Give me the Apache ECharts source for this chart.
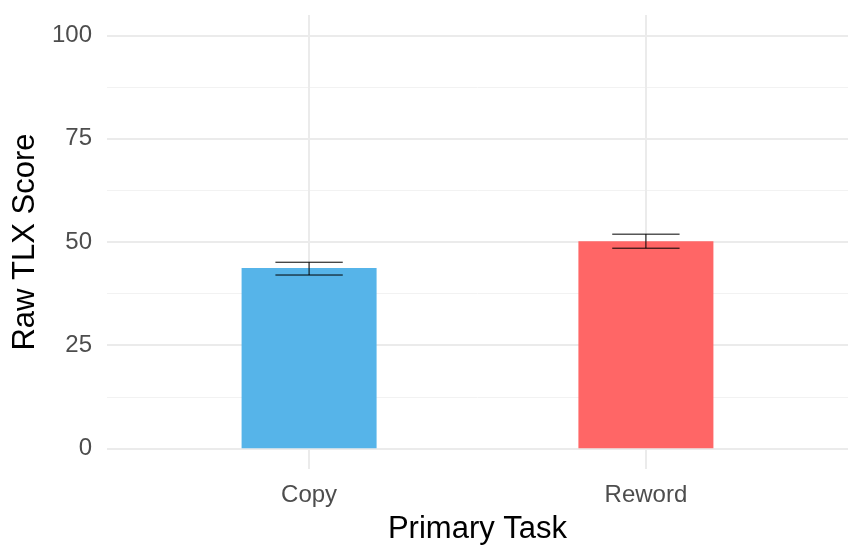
<!DOCTYPE html>
<html>
<head>
    <meta charset="UTF-8">
    <title>Raw TLX Score by Primary Task</title>
    <script src="https://cdn.jsdelivr.net/npm/echarts@6/dist/echarts.min.js"></script>
    <style>
        html, body { margin: 0; padding: 0; background: #fff; }
    </style>
</head>
<body>
<div id="tlx" style="width: 867px;height:557px;"></div>

<script type="text/javascript">
    // data
    var tasks = ['Copy', 'Reword'];
    var meanScore = [43.7, 50.2];
    var errLow = [42.0, 48.5];
    var errHigh = [45.1, 51.9];
    var barColors = ['#56B4E9', '#FF6666'];
    var yTicks = [0, 25, 50, 75, 100];
    var yMinorTicks = [12.5, 37.5, 62.5, 87.5];

    var font = 'Liberation Sans, Arial, sans-serif';
    var tlxChart = echarts.init(document.getElementById('tlx'));

    // x is a numeric position 1..n so the ggplot style padding can be kept
    var xPos = tasks.map(function (t, i) { return i + 1; });

    var option = {
        animation: false,
        textStyle: { fontFamily: font },
        grid: { left: 107, right: 19, top: 15, bottom: 88 },
        xAxis: {
            type: 'value',
            min: 0.4,
            max: tasks.length + 0.6,
            name: 'Primary Task',
            nameLocation: 'middle',
            nameGap: 45,
            nameTextStyle: { fontSize: 31, color: '#000', fontFamily: font },
            axisLine: { show: false },
            axisTick: { show: false, customValues: xPos },
            axisLabel: {
                customValues: xPos,
                fontSize: 24,
                color: '#4D4D4D',
                margin: 14,
                formatter: function (v) { return tasks[Math.round(v) - 1] || ''; }
            },
            splitLine: { show: true, lineStyle: { color: '#EBEBEB', width: 2 } }
        },
        yAxis: [{
            type: 'value',
            min: -5,
            max: 105,
            name: 'Raw TLX Score',
            nameLocation: 'middle',
            nameGap: 63,
            nameTextStyle: { fontSize: 31, color: '#000', fontFamily: font },
            axisLine: { show: false },
            axisTick: { show: false, customValues: yTicks },
            axisLabel: {
                customValues: yTicks,
                fontSize: 24,
                color: '#4D4D4D',
                margin: 15,
                padding: [5, 0, 0, 0]
            },
            splitLine: { show: true, lineStyle: { color: '#EBEBEB', width: 2 } }
        }, {
            // minor gridlines only
            type: 'value',
            min: -5,
            max: 105,
            position: 'left',
            axisLine: { show: false },
            axisTick: { show: false, customValues: yMinorTicks },
            axisLabel: { show: false, customValues: yMinorTicks },
            splitLine: { show: true, lineStyle: { color: '#F2F2F2', width: 1 } }
        }],
        series: [
            {
                name: 'mean',
                type: 'bar',
                barWidth: 135,
                data: xPos.map(function (x, i) {
                    return { value: [x, meanScore[i]], itemStyle: { color: barColors[i] } };
                }),
                z: 2
            },
            {
                name: 'se',
                type: 'custom',
                data: xPos.map(function (x, i) { return [x, errLow[i], errHigh[i]]; }),
                renderItem: function (params, api) {
                    var x = api.value(0);
                    var lo = api.coord([x, api.value(1)]);
                    var hi = api.coord([x, api.value(2)]);
                    var l = api.coord([x - 0.1, api.value(1)])[0];
                    var r = api.coord([x + 0.1, api.value(1)])[0];
                    var st = { stroke: '#000', lineWidth: 1 };
                    return {
                        type: 'group',
                        children: [
                            { type: 'line', shape: { x1: lo[0], y1: lo[1], x2: hi[0], y2: hi[1] }, style: st },
                            { type: 'line', shape: { x1: l, y1: hi[1], x2: r, y2: hi[1] }, style: st },
                            { type: 'line', shape: { x1: l, y1: lo[1], x2: r, y2: lo[1] }, style: st }
                        ]
                    };
                },
                z: 3
            }
        ]
    };

    tlxChart.setOption(option);
</script>
</body>
</html>
